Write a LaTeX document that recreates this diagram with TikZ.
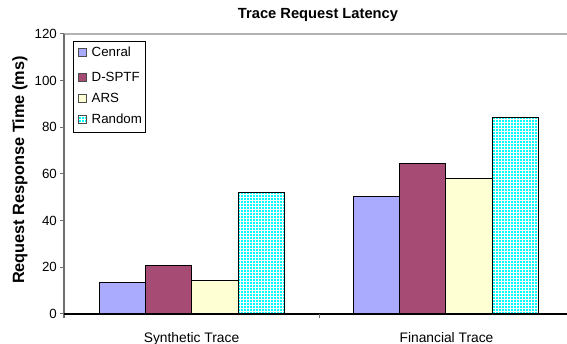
\documentclass[tikz,border=0pt]{standalone}
\usepackage{fontspec}
\setmainfont{Liberation Sans}
\usetikzlibrary{patterns}
\pgfdeclarepatternformonly{finegrid}{\pgfqpoint{-0.5pt}{-0.5pt}}{\pgfqpoint{3.5pt}{3.5pt}}{\pgfqpoint{3pt}{3pt}}{%
  \pgfsetlinewidth{0.5pt}%
  \pgfpathmoveto{\pgfqpoint{0pt}{-0.5pt}}\pgfpathlineto{\pgfqpoint{0pt}{3.5pt}}%
  \pgfpathmoveto{\pgfqpoint{-0.5pt}{0pt}}\pgfpathlineto{\pgfqpoint{3.5pt}{0pt}}%
  \pgfusepath{stroke}}
\definecolor{cCen}{RGB}{170,170,255}
\definecolor{cDsp}{RGB}{166,76,116}
\definecolor{cArs}{RGB}{255,255,212}
\definecolor{cRnd}{RGB}{0,255,255}
\definecolor{gridgray}{RGB}{178,178,178}
\definecolor{axgray}{RGB}{110,110,110}
\tikzset{
  bar/.style={draw=black, line width=0.9pt},
  cen/.style={bar, fill=cCen},
  dsp/.style={bar, fill=cDsp},
  ars/.style={bar, fill=cArs},
  rndfill/.style={preaction={fill=cRnd}, pattern=finegrid, pattern color=white},
  rnd/.style={bar, rndfill},
  mk/.style={draw=black!70, line width=0.6pt, minimum size=8.2pt, inner sep=0pt},
  ticklab/.style={font=\fontsize{13.3}{13.3}\selectfont, anchor=east, inner sep=0pt},
  catlab/.style={font=\fontsize{13.8}{13.8}\selectfont, anchor=base, inner sep=0pt},
  leglab/.style={font=\fontsize{13.3}{13.3}\selectfont, anchor=base west, inner sep=0pt},
}
\begin{document}
\begin{tikzpicture}[x=1pt,y=-1pt]
\useasboundingbox (0,0) rectangle (567,344);
% gridline at top
\draw[gridgray, line width=1.2pt] (64,34) -- (567,34);
% bars: y = 314 - 2.3333*v
% synthetic
\draw[cen] (99.3,314) rectangle (145.7,282.3);
\draw[dsp] (145.7,314) rectangle (191.8,265.3);
\draw[ars] (191.8,314) rectangle (238,280);
\draw[rnd] (238,314) rectangle (284.3,192.3);
% financial
\draw[cen] (353.3,314) rectangle (399.5,196.7);
\draw[dsp] (399.5,314) rectangle (445.7,163.3);
\draw[ars] (445.7,314) rectangle (492,178.3);
\draw[rnd] (492,314) rectangle (538.3,117.7);
% axes
\draw[axgray, line width=1.2pt] (64,34) -- (64,318);
\draw[black, line width=1.2pt] (64,314) -- (567,314);
\foreach \v/\yy in {0/314,20/267.33,40/220.67,60/174,80/127.33,100/80.67,120/34}{
  \draw[axgray, line width=1pt] (60,\yy) -- (64,\yy);
  \node[ticklab] (t\v) at (57,\yy) {\v};
}
\draw[axgray, line width=1pt] (319,314) -- (319,318);
% labels
\node[catlab] (synth) at (191.5,342) {Synthetic Trace};
\node[catlab] (fin) at (446.5,342) {Financial Trace};
\node[font=\bfseries\fontsize{14.7}{14.7}\selectfont, anchor=base, inner sep=0pt] (title) at (318,18.3) {Trace Request Latency};
\node[font=\bfseries\fontsize{16.3}{16.3}\selectfont, inner sep=0pt, rotate=90] (ylab) at (20,170) {Request Response Time (ms)};
% legend
\draw[black, line width=0.8pt, fill=white] (73.3,41) rectangle (145,132.8);
\node[mk, fill=cCen] (m1) at (82,52.4) {};
\node[mk, fill=cDsp] (m2) at (82,77.3) {};
\node[mk, fill=cArs] (m3) at (82,98.2) {};
\node[mk, rndfill] (m4) at (82,119.3) {};
\node[leglab] (l1) at (91.5,57) {Cenral};
\node[leglab] (l2) at (91.5,82) {D-SPTF};
\node[leglab] (l3) at (91.5,102.9) {ARS};
\node[leglab] (l4) at (91.5,124) {Random};
\end{tikzpicture}
\end{document}
